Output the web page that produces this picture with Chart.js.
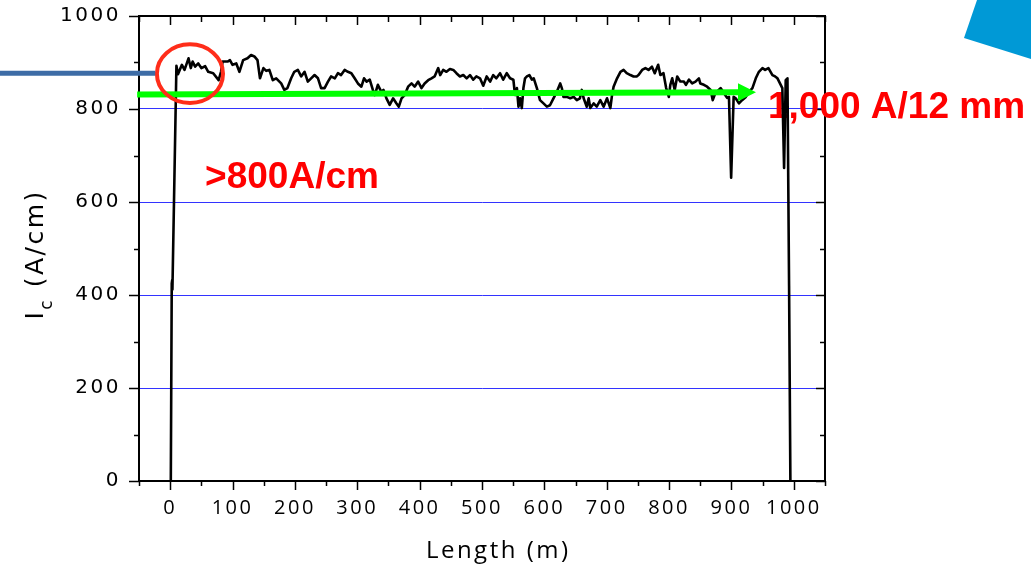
<!DOCTYPE html>
<html>
<head>
<meta charset="utf-8">
<script src="https://cdn.jsdelivr.net/npm/chart.js@4.4.1/dist/chart.umd.min.js"></script>
<style>
  html, body { margin: 0; padding: 0; background: #fff; }
  #wrap { width: 1031px; height: 574px; position: relative; }
  canvas { display: block; }
</style>
</head>
<body>
<div id="wrap"><canvas id="chart" width="1031" height="574"></canvas></div>
<script>
// Critical current along the tape length
const lengthM = [
  1.0, 2.5, 3.2, 3.6, 10.0, 12.5, 18.8, 23, 29.4, 33, 36, 40, 45, 50, 56, 61, 69, 77.7, 81.5, 84,
  92, 95.8, 100, 106, 111, 117, 124, 129.7, 135, 140, 144, 149.5, 154, 159, 164.5, 170, 178, 183, 188, 194,
  199, 204.7, 210, 215.5, 220.7, 226, 231.5, 237, 242, 247.6, 253, 258, 264, 269, 274, 279.7, 285, 290.5, 295.8, 301,
  306.6, 310.8, 315, 320, 325, 328, 333, 338.6, 342, 346.8, 352, 357.4, 362.9, 366.6, 371, 376, 381.5, 387, 392, 397.6,
  403, 408, 413.7, 419, 424, 429.8, 433, 437.8, 443, 448.6, 454, 459, 464.6, 470, 475.4, 480.7, 486, 491, 496.8, 502,
  507.5, 513, 518, 523, 529, 534, 539.7, 545, 550.3, 553, 556, 558.5, 561, 563.8, 566.4, 569, 572, 576, 580, 583,
  588, 593, 598.6, 604, 609, 614.6, 620, 625.4, 628, 630.7, 636, 641.5, 647, 652, 657, 660, 663, 668, 671, 673.6,
  679, 684, 689.7, 695, 700.5, 705.8, 708.5, 711, 716.6, 722, 727, 732, 738, 743, 748, 751, 756.8, 762, 767, 772.5,
  777, 782.5, 786, 791, 795.3, 799.6, 802, 805, 809, 813, 818, 823.7, 827, 831.8, 837, 842.4, 847.8, 850, 855.8, 861,
  866.6, 870, 874, 882.6, 888, 893, 896, 899.5, 903.5, 906.8, 912, 917, 923, 928, 933.6, 939, 944, 949.7, 954, 959.3,
  965.7, 970, 973.8, 979, 981.6, 984.4, 987, 989.8, 992.4, 994.5
];
const icValues = [
  0, 425, 432, 412, 893, 875, 895, 884, 909, 888, 902, 891, 898, 888, 892, 880, 877, 862, 880, 902,
  902, 905, 895, 898, 880, 905, 909, 916, 913, 905, 866, 888, 882, 884, 862, 866, 855, 841, 845, 866,
  880, 884, 870, 880, 859, 866, 873, 866, 845, 845, 859, 870, 866, 877, 873, 884, 880, 877, 866, 855,
  848, 866, 859, 863, 841, 830, 852, 837, 841, 823, 809, 823, 812, 805, 823, 830, 848, 855, 848, 859,
  845, 855, 862, 866, 870, 888, 873, 884, 880, 886, 884, 877, 870, 873, 866, 873, 863, 870, 866, 850,
  870, 859, 873, 866, 877, 863, 877, 866, 863, 830, 845, 805, 823, 802, 845, 866, 870, 873, 863, 866,
  845, 819, 812, 805, 808, 823, 837, 855, 845, 826, 826, 823, 826, 819, 823, 841, 823, 805, 823, 802,
  812, 805, 819, 805, 823, 802, 830, 848, 866, 880, 884, 877, 873, 870, 870, 873, 884, 888, 884, 891,
  877, 895, 873, 877, 845, 826, 852, 866, 841, 870, 859, 859, 852, 863, 855, 859, 866, 855, 852, 848,
  841, 819, 834, 845, 834, 824, 826, 652, 826, 823, 812, 819, 826, 837, 845, 866, 880, 888, 884, 888,
  873, 870, 866, 852, 845, 673, 862, 866, 420, 0
];

// Axis ticks
const xTickLabels = [0, 100, 200, 300, 400, 500, 600, 700, 800, 900, 1000];
const xMinorTicks = [-50, 50, 150, 250, 350, 450, 550, 650, 750, 850, 950, 1050];
const yTickLabels = [0, 200, 400, 600, 800, 1000];
const yMinorTicks = [100, 300, 500, 700, 900];

// Axis titles and annotation texts
const xTitle = 'Length (m)';
const noteLevel = '>800A/cm';
const noteRating = '1,000 A/12 mm';

// Axis boxes are sized exactly, without extra room for label overhang
const fixBox = size => s => {
  if (s.isHorizontal()) s.height = size; else s.width = size;
  s.paddingLeft = 0; s.paddingRight = 0; s.paddingTop = 0; s.paddingBottom = 0;
};

const tickMarks = {
  id: 'tickMarks',
  beforeDatasetsDraw(chart) {
    const { ctx, chartArea: a, scales: { x, y } } = chart;
    ctx.save();
    ctx.strokeStyle = '#000';
    ctx.lineWidth = 1.5;
    const seg = (x1, y1, x2, y2) => { ctx.beginPath(); ctx.moveTo(x1, y1); ctx.lineTo(x2, y2); ctx.stroke(); };
    xTickLabels.forEach(v => {
      const p = Math.round(x.getPixelForValue(v)) + 0.5;
      seg(p, a.bottom, p, a.bottom + 9);
      seg(p, a.top, p, a.top + 9);
    });
    xMinorTicks.forEach(v => {
      const p = Math.round(x.getPixelForValue(v)) + 0.5;
      seg(p, a.bottom, p, a.bottom + 5);
      seg(p, a.top, p, a.top + 6);
    });
    yTickLabels.forEach(v => {
      const p = Math.round(y.getPixelForValue(v)) + 0.5;
      seg(a.left - 10, p, a.left, p);
      seg(a.right - 9, p, a.right, p);
    });
    yMinorTicks.forEach(v => {
      const p = Math.round(y.getPixelForValue(v)) + 0.5;
      seg(a.left - 5, p, a.left, p);
      seg(a.right - 5, p, a.right, p);
    });

    // red captions
    ctx.letterSpacing = '0px';
    ctx.fillStyle = '#ff0000';
    ctx.font = 'bold 37px "Liberation Sans", Arial, sans-serif';
    ctx.textAlign = 'left';
    ctx.textBaseline = 'alphabetic';
    ctx.fillText(noteLevel, x.getPixelForValue(56), y.getPixelForValue(630));
    ctx.fillText(noteRating, x.getPixelForValue(958.6), y.getPixelForValue(780.6));
    ctx.restore();
  }
};

const overlays = {
  id: 'overlays',
  beforeDraw(chart) {
    chart.ctx.letterSpacing = '2.5px';
  },
  afterDatasetsDraw(chart) {
    const { ctx, scales: { x, y } } = chart;
    ctx.save();
    ctx.letterSpacing = '0px';

    // green arrow along the 830 A/cm level
    const x0 = x.getPixelForValue(-53), y0 = y.getPixelForValue(831);
    const xh = x.getPixelForValue(910.5), xt = x.getPixelForValue(939.4), yt = y.getPixelForValue(836);
    const yh = y0 + (yt - y0) * (xh - x0) / (xt - x0);
    ctx.strokeStyle = '#00ff00';
    ctx.fillStyle = '#00ff00';
    ctx.lineWidth = 6;
    ctx.beginPath();
    ctx.moveTo(x0, y0);
    ctx.lineTo(xh + 1, yh);
    ctx.stroke();
    ctx.beginPath();
    ctx.moveTo(xh, yh - 9);
    ctx.lineTo(xt, yt);
    ctx.lineTo(xh, yh + 9);
    ctx.closePath();
    ctx.fill();

    // red ring around the start of the tape
    const cx = x.getPixelForValue(31.7), cy = y.getPixelForValue(876);
    const rx = x.getPixelForValue(31.7 + 53) - cx, ry = cy - y.getPixelForValue(876 + 63);
    ctx.strokeStyle = '#ff2d1a';
    ctx.lineWidth = 4;
    ctx.beginPath();
    ctx.ellipse(cx, cy, rx, ry, 0, 0, Math.PI * 2);
    ctx.stroke();

    // pointer line from the left
    ctx.strokeStyle = '#3d6ca6';
    ctx.lineWidth = 5;
    ctx.beginPath();
    ctx.moveTo(x.getPixelForValue(-280), y.getPixelForValue(877));
    ctx.lineTo(x.getPixelForValue(-24), y.getPixelForValue(877));
    ctx.stroke();
    ctx.restore();
  },
  afterDraw(chart) {
    const { ctx, chartArea: a, scales: { x } } = chart;
    ctx.save();
    ctx.letterSpacing = '0px';
    // corner shape
    ctx.fillStyle = '#0099d6';
    ctx.beginPath();
    ctx.moveTo(977, 0);
    ctx.lineTo(964, 38);
    ctx.lineTo(1031, 59);
    ctx.lineTo(1031, 0);
    ctx.closePath();
    ctx.fill();

    // horizontal axis title, set slightly right of the axis middle
    ctx.fillStyle = '#000';
    ctx.letterSpacing = '2.5px';
    ctx.font = '24px "Open Sans", sans-serif';
    ctx.textAlign = 'center';
    ctx.textBaseline = 'middle';
    ctx.fillText(xTitle, x.getPixelForValue(526), 551);

    // vertical axis title: I_c (A/cm)
    const midY = (a.top + a.bottom) / 2;
    ctx.translate(43, midY + 71);
    ctx.rotate(-Math.PI / 2);
    ctx.textAlign = 'left';
    ctx.textBaseline = 'alphabetic';
    ctx.font = '25px "DejaVu Sans", sans-serif';
    ctx.fillText('I', 0, 0);
    let w = ctx.measureText('I').width;
    ctx.font = '17px "DejaVu Sans", sans-serif';
    ctx.fillText('c', w, 9);
    w += ctx.measureText('c').width;
    ctx.font = '25px "DejaVu Sans", sans-serif';
    ctx.fillText(' (A/cm)', w, 0);
    ctx.restore();
  }
};

const points = lengthM.map((v, i) => ({ x: v, y: icValues[i] }));

new Chart(document.getElementById('chart'), {
  type: 'line',
  data: {
    datasets: [{
      data: points,
      borderColor: '#000',
      borderWidth: 2.6,
      borderJoinStyle: 'round',
      pointRadius: 0,
      tension: 0,
      fill: false,
      xAxisID: 'x',
      yAxisID: 'y'
    }]
  },
  options: {
    responsive: false,
    animation: false,
    devicePixelRatio: 1,
    layout: { padding: 0 },
    plugins: { legend: { display: false }, tooltip: { enabled: false } },
    scales: {
      x: {
        type: 'linear', position: 'bottom', min: -50, max: 1050,
        afterBuildTicks: s => { s.ticks = xTickLabels.map(v => ({ value: v })); },
        afterFit: fixBox(93),
        grid: { display: false, drawTicks: false },
        border: { display: true, color: '#000', width: 2 },
        ticks: {
          color: '#000', padding: 15, maxRotation: 0, autoSkip: false,
          font: { family: '"Open Sans"', size: 20 },
          callback: v => String(v)
        }
      },
      xTop: {
        type: 'linear', position: 'top', min: -50, max: 1050,
        afterFit: fixBox(16),
        grid: { display: false, drawTicks: false },
        ticks: { display: false },
        border: { display: true, color: '#000', width: 2 }
      },
      y: {
        type: 'linear', position: 'left', min: 0, max: 1000,
        afterBuildTicks: s => { s.ticks = yTickLabels.map(v => ({ value: v })); },
        afterFit: fixBox(139),
        grid: {
          drawTicks: false, lineWidth: 1,
          color: c => (c.tick && c.tick.value > 0 && c.tick.value < 1000) ? 'rgba(0,0,255,0.8)' : 'rgba(0,0,0,0)'
        },
        border: { display: true, color: '#000', width: 2 },
        ticks: {
          color: '#000', padding: 18,
          font: { family: '"DejaVu Sans"', size: 20 },
          callback: v => String(v)
        }
      },
      yRight: {
        type: 'linear', position: 'right', min: 0, max: 1000,
        afterFit: fixBox(206),
        grid: { display: false, drawTicks: false },
        ticks: { display: false },
        border: { display: true, color: '#000', width: 2 }
      }
    }
  },
  plugins: [tickMarks, overlays]
});
</script>
</body>
</html>
